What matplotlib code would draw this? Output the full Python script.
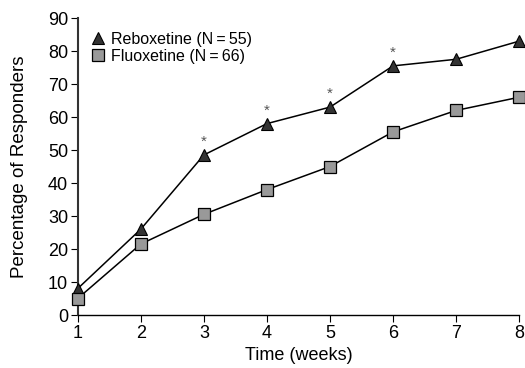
import matplotlib
matplotlib.use('Agg')
import matplotlib.pyplot as plt
from matplotlib.lines import Line2D

plt.rcParams['font.family'] = ['Liberation Sans', 'DejaVu Sans']

weeks = [1, 2, 3, 4, 5, 6, 7, 8]
reboxetine = [8, 26, 48.5, 58, 63, 75.5, 77.5, 83]
fluoxetine = [5, 21.5, 30.5, 38, 45, 55.5, 62, 66]
star_weeks = [3, 4, 5, 6]

fig = plt.figure(figsize=(5.25, 3.68), dpi=100)
ax = fig.add_axes([0.148, 0.144, 0.841, 0.807])

ax.plot(weeks, reboxetine, color='black', lw=1.1, marker='^', ms=9,
        mfc='#333333', mec='black', mew=0.8, clip_on=False, zorder=3)
ax.plot(weeks, fluoxetine, color='black', lw=1.1, marker='s', ms=8,
        mfc='#999999', mec='black', mew=0.9, clip_on=False, zorder=3)

# significance markers
for w in star_weeks:
    y = reboxetine[weeks.index(w)]
    ax.text(w, y + 1.8, '*', ha='center', va='bottom', fontsize=11, color='#555555')

ax.set_xlim(1, 8)
ax.set_ylim(0, 90)
ax.set_xticks(weeks)
ax.set_yticks(range(0, 91, 10))
ax.spines['top'].set_visible(False)
ax.spines['right'].set_visible(False)
ax.spines['left'].set_color('#333333')
ax.spines['left'].set_linewidth(1.5)
ax.spines['bottom'].set_linewidth(1.0)
ax.tick_params(direction='out', length=5, labelsize=13, pad=2)
ax.set_xlabel('Time (weeks)', fontsize=13, labelpad=4)
ax.set_ylabel('Percentage of Responders', fontsize=13.5, labelpad=14)

handles = [
    Line2D([], [], ls='none', marker='^', ms=9, mfc='#333333', mec='black', mew=0.8),
    Line2D([], [], ls='none', marker='s', ms=8, mfc='#999999', mec='black', mew=0.9),
]
labels = ['Reboxetine (N\u2009=\u200955)', 'Fluoxetine (N\u2009=\u200966)']
ax.legend(handles, labels, loc='upper left', bbox_to_anchor=(0.01, 0.985),
          frameon=False, fontsize=11.5, handlelength=0.8, handletextpad=0.4,
          labelspacing=0.1, borderaxespad=0.2)

fig.savefig('out.png', dpi=100)
